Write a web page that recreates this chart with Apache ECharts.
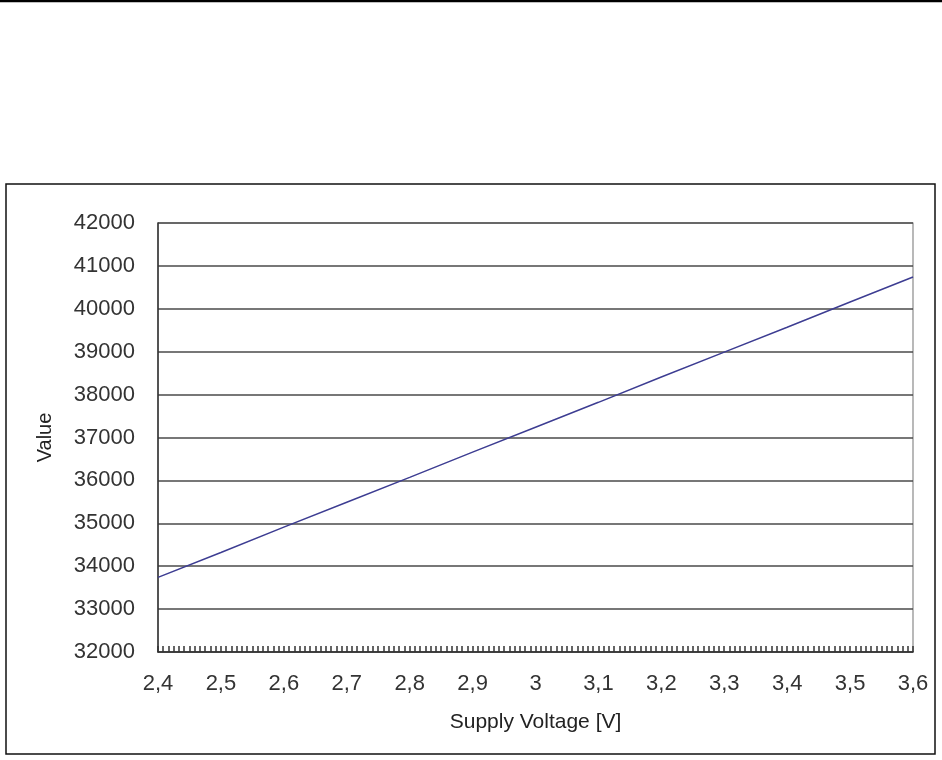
<!DOCTYPE html>
<html>
<head>
<meta charset="utf-8">
<script src="https://cdn.jsdelivr.net/npm/echarts@6/dist/echarts.min.js"></script>
<style>
html,body{margin:0;padding:0;background:#fff;}
#chart{width:942px;height:760px;}
</style>
</head>
<body>
<div id="chart"></div>
<script>
const voltages = [2.4, 2.5, 2.6, 2.7, 2.8, 2.9, 3.0, 3.1, 3.2, 3.3, 3.4, 3.5, 3.6];
const values = [33740, 34320, 34910, 35490, 36070, 36660, 37240, 37820, 38410, 38990, 39570, 40160, 40740];
const xAxisTitle = 'Supply Voltage [V]';
const yAxisTitle = 'Value';

const chart = echarts.init(document.getElementById('chart'), null, {renderer: 'canvas'});
const fmtX = v => String(parseFloat(v.toFixed(1))).replace('.', ',');
const fmtY = v => String(Math.round(v));
const fontFam = '"Liberation Sans", Arial, sans-serif';

chart.setOption({
  animation: false,
  backgroundColor: '#ffffff',
  grid: {
    left: 158, right: 29, top: 223, bottom: 108,
    show: true, borderColor: '#8a8a8a', borderWidth: 1.2, backgroundColor: 'transparent'
  },
  graphic: [
    {type: 'rect', shape: {x: 6, y: 184, width: 929, height: 570},
     style: {fill: 'none', stroke: '#111', lineWidth: 1.5}, silent: true, z: 0},
    {type: 'line', shape: {x1: 0, y1: 1, x2: 942, y2: 1},
     style: {stroke: '#000', lineWidth: 2.5}, silent: true}
  ],
  xAxis: {
    type: 'value', min: 2.4, max: 3.6, interval: 0.1,
    name: xAxisTitle, nameLocation: 'middle', nameGap: 60,
    nameTextStyle: {fontSize: 21, color: '#222', fontFamily: fontFam},
    axisLine: {show: true, lineStyle: {color: '#333', width: 1.5}},
    axisTick: {show: true, inside: true, length: 6, lineStyle: {color: '#333', width: 1.5}},
    minorTick: {show: true, splitNumber: 12, length: 6, lineStyle: {color: '#333', width: 1.5}},
    splitLine: {show: false},
    axisLabel: {formatter: fmtX, fontSize: 22, color: '#333', margin: 21, fontFamily: fontFam}
  },
  yAxis: {
    type: 'value', min: 32000, max: 42000, interval: 1000,
    name: yAxisTitle, nameLocation: 'middle', nameGap: 103, nameRotate: 90,
    nameTextStyle: {fontSize: 20, color: '#222', fontFamily: fontFam},
    axisLine: {show: true, lineStyle: {color: '#333', width: 1.5}},
    axisTick: {show: false},
    splitLine: {show: true, lineStyle: {color: '#4a4a4a', width: 1.5}},
    axisLabel: {formatter: fmtY, fontSize: 22, color: '#333', margin: 23, fontFamily: fontFam}
  },
  series: [{
    type: 'line',
    data: voltages.map((v, i) => [v, values[i]]),
    showSymbol: false,
    lineStyle: {color: '#3d3d92', width: 1.5},
    z: 5
  }]
});
</script>
</body>
</html>
